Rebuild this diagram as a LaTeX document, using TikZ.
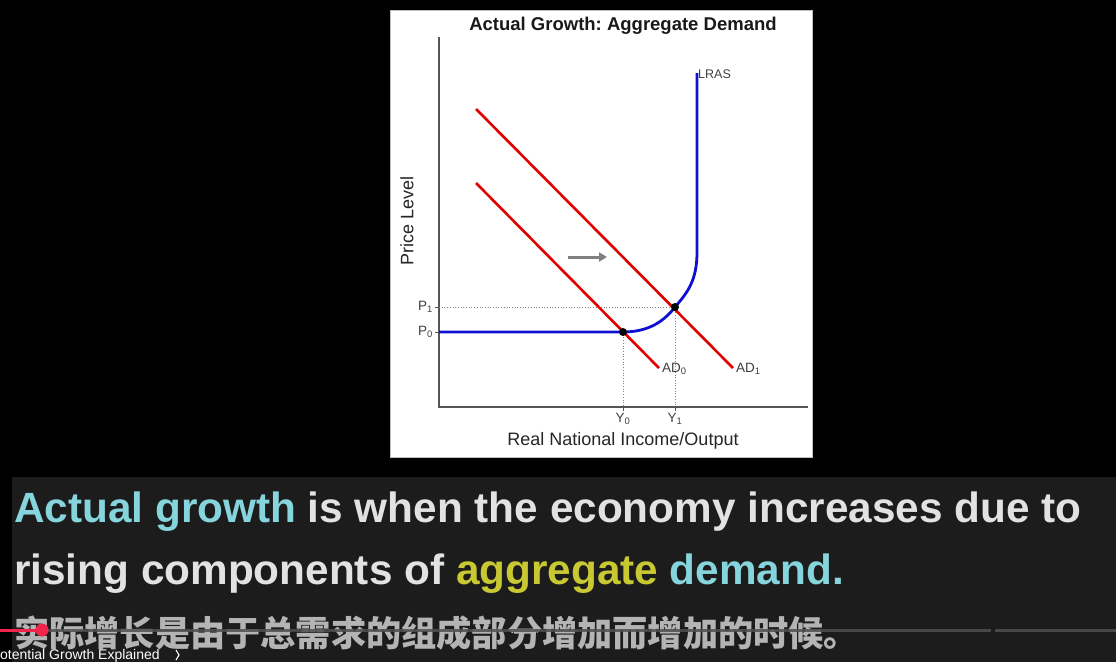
\documentclass[tikz,border=0pt]{standalone}
\usepackage{fontspec}
\setmainfont{Liberation Sans}
\newfontfamily\cjk{Noto Sans CJK SC}
\usetikzlibrary{arrows.meta}
\frenchspacing
\definecolor{subbg}{HTML}{1C1C1C}
\definecolor{axisgray}{HTML}{555555}
\definecolor{adred}{HTML}{E00000}
\definecolor{lrasblue}{HTML}{1010D0}
\definecolor{subcyan}{HTML}{86D4DC}
\definecolor{subyellow}{HTML}{C8C832}
\definecolor{subwhite}{HTML}{E2E2E2}
\definecolor{cjkgray}{HTML}{B4B4B4}
\definecolor{ytred}{HTML}{F0244C}
\definecolor{bargray}{HTML}{505050}
\tikzset{
  axisline/.style={draw=axisgray, line width=1.4pt},
  adline/.style={draw=adred, line width=2.6pt},
  lrasline/.style={draw=lrasblue, line width=2.8pt},
  guide/.style={draw=gray, line width=0.7pt, dotted},
  ticklbl/.style={font=\fontsize{13.5}{13.5}\selectfont, text=black!75, inner sep=1pt},
  axislbl/.style={font=\fontsize{18}{18}\selectfont, text=black!85},
  dotpt/.style={circle, fill=black, inner sep=0pt, minimum size=8pt},
  subline/.style={font=\fontsize{42.3}{42.3}\selectfont\bfseries, text=subwhite, anchor=base west, inner sep=0pt},
}
\begin{document}
\begin{tikzpicture}[x=1pt,y=-1pt]
\useasboundingbox (0,0) rectangle (1116,662);
% backgrounds
\fill[black] (0,0) rectangle (1116,662);
\fill[subbg] (12,477) rectangle (1116,662);
% chart panel
\fill[white] (390,10) rectangle (813,458);
\draw[black!25, line width=1pt] (390.5,10.5) rectangle (812.5,457.5);
% title
\node[font=\fontsize{18.5}{18.5}\selectfont\bfseries, text=black!90] (title) at (623,26) {Actual Growth: Aggregate Demand};
% axes
\coordinate (O) at (439,407);
\coordinate (ytop) at (439,37);
\coordinate (xend) at (808,407);
\draw[axisline] (ytop) -- (O) -- (xend);
\node[axislbl, rotate=90] (ylbl) at (407,221) {Price Level};
\node[axislbl] (xlbl) at (623,441) {Real National Income/Output};
% key points
\coordinate (p0) at (439,332);
\coordinate (p1) at (439,307);
\coordinate (e0) at (623,332);
\coordinate (e1) at (675,307);
\coordinate (y0) at (623,407);
\coordinate (y1) at (675,407);
% guides
\draw[guide] (p1) -- (e1);
\draw[guide] (e0) -- (y0);
\draw[guide] (e1) -- (y1);
\draw[axisgray, line width=0.8pt] (p1) -- ++(-4,0) (p0) -- ++(-4,0) (y0) -- ++(0,4) (y1) -- ++(0,4);
\node[ticklbl, anchor=east] (lp1) at (434,307) {P\textsubscript{1}};
\node[ticklbl, anchor=east] (lp0) at (434,332) {P\textsubscript{0}};
\node[ticklbl, anchor=north] (ly0) at (623,412) {Y\textsubscript{0}};
\node[ticklbl, anchor=north] (ly1) at (675,412) {Y\textsubscript{1}};
% AD curves
\coordinate (ad0s) at (476,183);
\coordinate (ad0e) at (659,368);
\coordinate (ad1s) at (476,109);
\coordinate (ad1e) at (733,368);
\draw[adline] (ad0s) -- (ad0e);
\draw[adline] (ad1s) -- (ad1e);
\node[ticklbl, anchor=west] (lad0) at (661,369) {AD\textsubscript{0}};
\node[ticklbl, anchor=west] (lad1) at (735,369) {AD\textsubscript{1}};
% LRAS
\coordinate (lrtop) at (697,73);
\draw[lrasline] (p0) -- (e0) .. controls (650,332) and (665,320) .. (e1)
  .. controls (688,292) and (697,280) .. (697,252) -- (lrtop);
\node[ticklbl, anchor=south west, font=\fontsize{12.5}{12.5}\selectfont] (llras) at (697,80) {LRAS};
% points
\node[dotpt] (d0) at (e0) {};
\node[dotpt] (d1) at (e1) {};
% shift arrow
\coordinate (arrs) at (568,257);
\coordinate (arre) at (607,257);
\draw[draw=gray, line width=3pt, -{Triangle[length=8pt,width=9pt]}] (arrs) -- (arre);
% subtitles
\node[subline] (l1) at (14,522) {\textcolor{subcyan}{Actual growth} is when the economy increases due to};
\node[subline] (l2) at (14,584) {rising components of \textcolor{subyellow}{aggregate} \textcolor{subcyan}{demand.}};
\node[font=\fontsize{35.2}{35.2}\selectfont\cjk\bfseries, text=cjkgray, anchor=base west, inner sep=0pt] (l3) at (14,646) {实际增长是由于总需求的组成部分增加而增加的时候。};
% progress bar
\coordinate (barL) at (0,630);
\coordinate (barM) at (42,630);
\coordinate (barG1) at (991,630);
\coordinate (barG2) at (995,630);
\coordinate (barR) at (1116,630);
\draw[bargray, line width=3pt, opacity=0.85] (barM) -- (barG1) (barG2) -- (barR);
\draw[ytred, line width=3pt] (barL) -- (barM);
\node[circle, fill=ytred, inner sep=0pt, minimum size=13pt] (knob) at (barM) {};
% video title
\node[font=\fontsize{14}{14}\selectfont, text=white, anchor=base west, inner sep=0pt] (vt) at (0,659) {otential Growth Explained};
\coordinate (chv) at (179,655);
\draw[white, line width=1.1pt] (chv) ++(-3,-5) -- (chv) -- ++(-3,5);
\end{tikzpicture}
\end{document}
